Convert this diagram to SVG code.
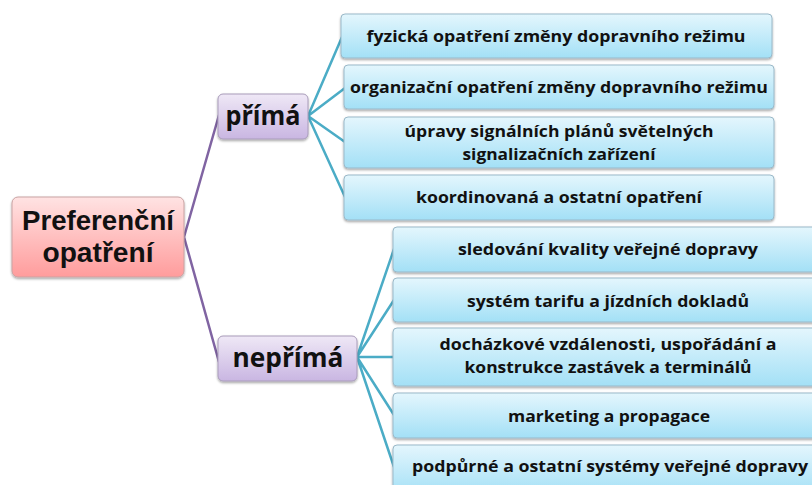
<svg xmlns="http://www.w3.org/2000/svg" width="812" height="485" viewBox="0 0 812 485">
<defs>
<linearGradient id="gBlue" x1="0" y1="0" x2="0" y2="1">
<stop offset="0" stop-color="#e4f6fd"/>
<stop offset="1" stop-color="#a3e0f6"/>
</linearGradient>
<linearGradient id="gPink" x1="0" y1="0" x2="0" y2="1">
<stop offset="0" stop-color="#ffe3e3"/>
<stop offset="1" stop-color="#ff9c9c"/>
</linearGradient>
<linearGradient id="gPurple" x1="0" y1="0" x2="0" y2="1">
<stop offset="0" stop-color="#efe8f6"/>
<stop offset="1" stop-color="#c9b6e2"/>
</linearGradient>
<filter id="sh" x="-10%" y="-20%" width="120%" height="150%">
<feDropShadow dx="0" dy="1.5" stdDeviation="1.2" flood-color="#000" flood-opacity="0.35"/>
</filter>
</defs>
<style>
.bx{fill:url(#gBlue);stroke:#9ab9c9;stroke-width:1;filter:url(#sh)}
.rt{fill:url(#gPink);stroke:#c9a3a3;stroke-width:1;filter:url(#sh)}
.pu{fill:url(#gPurple);stroke:#a99cba;stroke-width:1;filter:url(#sh)}
text{font-family:"Open Sans","Liberation Sans",sans-serif;font-weight:bold;fill:#111;text-anchor:middle}
.t{font-size:16px}
.big{font-size:26px}
.rtx{font-family:"Liberation Sans",Arial,sans-serif;font-size:28px}
.c1{stroke:#8064a2;stroke-width:2.5;fill:none}
.c2{stroke:#4bacc6;stroke-width:2.5;fill:none}
</style>
<rect width="812" height="485" fill="#fff"/>
<g id="connectors">
<path class="c1" d="M184,237 L219,115 M184,237 L219,362"/>
<path class="c2" d="M308,116 L342,37 M308,116 L345,88 M308,116 L345,142 M308,116 L345,197"/>
<path class="c2" d="M357,357 L394,249 M357,357 L394,300 M357,357 L394,357 M357,357 L394,415 M357,357 L394,467"/>
</g>
<g id="root">
<rect class="rt" x="12" y="197" width="172" height="80" rx="6"/>
<text class="rtx" x="98" y="230" textLength="152" lengthAdjust="spacingAndGlyphs">Preferenční</text>
<text class="rtx" x="98" y="262" textLength="111" lengthAdjust="spacingAndGlyphs">opatření</text>
</g>
<g id="prima">
<rect class="pu" x="218" y="94" width="90" height="45" rx="5"/>
<text class="big" x="263" y="125" textLength="75" lengthAdjust="spacingAndGlyphs">přímá</text>
</g>
<g id="neprima">
<rect class="pu" x="218" y="336" width="139" height="45" rx="5"/>
<text class="big" x="288" y="367" textLength="111" lengthAdjust="spacingAndGlyphs">nepřímá</text>
</g>
<g id="n1">
<rect class="bx" x="341" y="14" width="431" height="44" rx="4"/>
<text class="t" x="556" y="42" textLength="379" lengthAdjust="spacingAndGlyphs">fyzická opatření změny dopravního režimu</text>
</g>
<g id="n2">
<rect class="bx" x="344" y="65" width="430" height="44" rx="4"/>
<text class="t" x="559" y="93" textLength="418" lengthAdjust="spacingAndGlyphs">organizační opatření změny dopravního režimu</text>
</g>
<g id="n3">
<rect class="bx" x="344" y="117" width="430" height="51" rx="4"/>
<text class="t" x="559" y="137" textLength="309" lengthAdjust="spacingAndGlyphs">úpravy signálních plánů světelných</text>
<text class="t" x="559" y="160" textLength="193" lengthAdjust="spacingAndGlyphs">signalizačních zařízení</text>
</g>
<g id="n4">
<rect class="bx" x="344" y="175" width="430" height="45" rx="4"/>
<text class="t" x="559" y="203" textLength="286" lengthAdjust="spacingAndGlyphs">koordinovaná a ostatní opatření</text>
</g>
<g id="n5">
<rect class="bx" x="393" y="227" width="432" height="45" rx="4"/>
<text class="t" x="608" y="255" textLength="300" lengthAdjust="spacingAndGlyphs">sledování kvality veřejné dopravy</text>
</g>
<g id="n6">
<rect class="bx" x="393" y="278" width="432" height="44" rx="4"/>
<text class="t" x="608" y="307" textLength="282" lengthAdjust="spacingAndGlyphs">systém tarifu a jízdních dokladů</text>
</g>
<g id="n7">
<rect class="bx" x="393" y="328" width="432" height="58" rx="4"/>
<text class="t" x="608" y="350" textLength="337" lengthAdjust="spacingAndGlyphs">docházkové vzdálenosti, uspořádání a</text>
<text class="t" x="608" y="373" textLength="287" lengthAdjust="spacingAndGlyphs">konstrukce zastávek a terminálů</text>
</g>
<g id="n8">
<rect class="bx" x="393" y="393" width="432" height="45" rx="4"/>
<text class="t" x="609" y="422" textLength="202" lengthAdjust="spacingAndGlyphs">marketing a propagace</text>
</g>
<g id="n9">
<rect class="bx" x="393" y="445" width="432" height="50" rx="4"/>
<text class="t" x="610" y="472" textLength="396" lengthAdjust="spacingAndGlyphs">podpůrné a ostatní systémy veřejné dopravy</text>
</g>
</svg>
